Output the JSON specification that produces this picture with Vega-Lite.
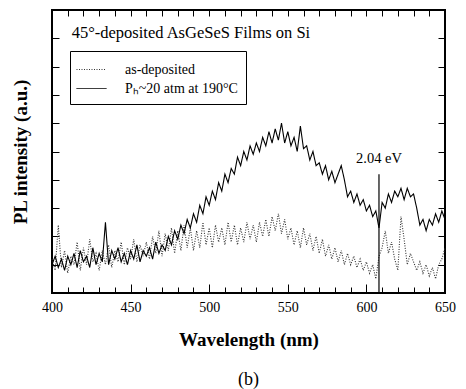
{
  "$schema": "https://vega.github.io/schema/vega-lite/v6.json",
  "width": 393,
  "height": 283,
  "autosize": {"type": "none"},
  "padding": {"left": 52, "top": 10, "right": 21, "bottom": 96},
  "background": "white",
  "config": {
    "view": {"stroke": "black", "strokeWidth": 2},
    "font": "Liberation Serif",
    "axis": {"domain": false, "grid": false, "tickColor": "black", "labelColor": "black", "titleColor": "black", "labelFont": "Liberation Serif", "titleFont": "Liberation Serif"}
  },
  "title": {"text": "(b)", "orient": "bottom", "font": "Liberation Serif", "fontSize": 18, "fontWeight": "normal", "color": "black", "offset": 22},
  "resolve": {"axis": {"x": "independent", "y": "independent"}},
  "layer": [
    {
      "data": {"values": [
        {"w":400,"as":1.2,"ph":1.0},{"w":402,"as":0.8,"ph":1.3},{"w":404,"as":2.4,"ph":0.9},{"w":406,"as":0.9,"ph":1.2},{"w":408,"as":1.5,"ph":0.8},
        {"w":410,"as":0.7,"ph":1.3},{"w":412,"as":1.3,"ph":1.0},{"w":414,"as":1.0,"ph":1.4},{"w":416,"as":1.8,"ph":0.9},{"w":418,"as":0.8,"ph":1.5},
        {"w":420,"as":1.6,"ph":1.1},{"w":422,"as":1.0,"ph":1.3},{"w":424,"as":1.9,"ph":0.9},{"w":426,"as":1.1,"ph":1.6},{"w":428,"as":1.4,"ph":1.0},
        {"w":430,"as":0.8,"ph":1.4},{"w":432,"as":1.5,"ph":1.1},{"w":434,"as":1.0,"ph":2.5},{"w":436,"as":1.7,"ph":1.0},{"w":438,"as":0.9,"ph":1.5},
        {"w":440,"as":1.5,"ph":1.2},{"w":442,"as":1.1,"ph":1.6},{"w":444,"as":1.8,"ph":1.1},{"w":446,"as":1.0,"ph":1.4},{"w":448,"as":1.6,"ph":1.0},
        {"w":450,"as":1.2,"ph":1.5},{"w":452,"as":1.9,"ph":1.2},{"w":454,"as":1.1,"ph":1.7},{"w":456,"as":1.7,"ph":1.1},{"w":458,"as":1.3,"ph":1.5},
        {"w":460,"as":1.8,"ph":1.3},{"w":462,"as":1.2,"ph":1.6},{"w":464,"as":2.0,"ph":1.2},{"w":466,"as":1.4,"ph":1.8},{"w":468,"as":2.2,"ph":1.4},
        {"w":470,"as":1.3,"ph":1.7},{"w":472,"as":2.1,"ph":1.5},{"w":474,"as":1.5,"ph":2.0},{"w":476,"as":2.3,"ph":1.7},{"w":478,"as":1.4,"ph":2.2},
        {"w":480,"as":2.2,"ph":1.9},{"w":482,"as":1.5,"ph":2.4},{"w":484,"as":2.4,"ph":2.1},{"w":486,"as":1.6,"ph":2.6},{"w":488,"as":2.3,"ph":2.3},
        {"w":490,"as":1.5,"ph":2.8},{"w":492,"as":2.2,"ph":2.5},{"w":494,"as":1.6,"ph":3.1},{"w":496,"as":2.5,"ph":2.8},{"w":498,"as":1.7,"ph":3.4},
        {"w":500,"as":2.3,"ph":3.1},{"w":502,"as":1.6,"ph":3.6},{"w":504,"as":2.4,"ph":3.3},{"w":506,"as":1.8,"ph":3.9},{"w":508,"as":2.3,"ph":3.6},
        {"w":510,"as":1.7,"ph":4.2},{"w":512,"as":2.5,"ph":3.9},{"w":514,"as":1.8,"ph":4.4},{"w":516,"as":2.4,"ph":4.2},{"w":518,"as":1.7,"ph":4.8},
        {"w":520,"as":2.3,"ph":4.5},{"w":522,"as":1.8,"ph":5.0},{"w":524,"as":2.5,"ph":4.7},{"w":526,"as":1.9,"ph":5.2},{"w":528,"as":2.4,"ph":4.9},
        {"w":530,"as":1.8,"ph":5.3},{"w":532,"as":2.5,"ph":5.0},{"w":534,"as":2.0,"ph":5.5},{"w":536,"as":2.6,"ph":5.2},{"w":538,"as":2.0,"ph":5.7},
        {"w":540,"as":2.7,"ph":5.3},{"w":542,"as":2.2,"ph":5.8},{"w":544,"as":2.8,"ph":5.4},{"w":546,"as":2.1,"ph":6.0},{"w":548,"as":2.6,"ph":5.3},
        {"w":550,"as":1.9,"ph":5.7},{"w":552,"as":2.3,"ph":5.2},{"w":554,"as":1.7,"ph":5.5},{"w":556,"as":2.2,"ph":5.0},{"w":558,"as":1.6,"ph":5.9},
        {"w":560,"as":2.3,"ph":5.1},{"w":562,"as":1.7,"ph":5.2},{"w":564,"as":2.1,"ph":4.7},{"w":566,"as":1.5,"ph":5.0},{"w":568,"as":2.0,"ph":4.5},
        {"w":570,"as":1.4,"ph":4.6},{"w":572,"as":1.9,"ph":4.2},{"w":574,"as":1.3,"ph":4.5},{"w":576,"as":1.7,"ph":4.0},{"w":578,"as":1.2,"ph":4.3},
        {"w":580,"as":1.6,"ph":3.9},{"w":582,"as":1.1,"ph":4.2},{"w":584,"as":1.5,"ph":4.5},{"w":586,"as":1.0,"ph":4.0},{"w":588,"as":1.4,"ph":3.4},
        {"w":590,"as":1.0,"ph":3.6},{"w":592,"as":1.3,"ph":3.2},{"w":594,"as":0.9,"ph":3.5},{"w":596,"as":1.2,"ph":3.1},{"w":598,"as":0.8,"ph":3.3},
        {"w":600,"as":1.1,"ph":2.9},{"w":602,"as":0.7,"ph":3.1},{"w":604,"as":1.0,"ph":2.7},{"w":606,"as":0.5,"ph":2.9},{"w":608,"as":1.3,"ph":2.3},
        {"w":610,"as":1.6,"ph":3.2},{"w":612,"as":2.2,"ph":3.0},{"w":614,"as":1.4,"ph":3.5},{"w":616,"as":1.8,"ph":3.2},{"w":618,"as":1.2,"ph":3.6},
        {"w":620,"as":0.8,"ph":3.4},{"w":622,"as":2.7,"ph":3.7},{"w":624,"as":1.9,"ph":3.3},{"w":626,"as":1.0,"ph":3.7},{"w":628,"as":1.4,"ph":3.4},
        {"w":630,"as":1.1,"ph":3.5},{"w":632,"as":0.8,"ph":3.0},{"w":634,"as":1.1,"ph":2.4},{"w":636,"as":0.7,"ph":2.6},{"w":638,"as":1.0,"ph":2.2},
        {"w":640,"as":0.6,"ph":2.6},{"w":642,"as":0.9,"ph":2.4},{"w":644,"as":0.5,"ph":2.8},{"w":646,"as":1.0,"ph":2.5},{"w":648,"as":1.2,"ph":2.9},
        {"w":650,"as":1.6,"ph":2.6}
      ]},
      "transform": [{"fold": ["as", "ph"], "as": ["series", "v"]}],
      "mark": {"type": "line", "strokeWidth": 1.1, "interpolate": "linear"},
      "encoding": {
        "x": {"field": "w", "type": "quantitative", "scale": {"domain": [400, 650], "nice": false, "zero": false},
          "axis": {"orient": "bottom", "values": [400,410,420,430,440,450,460,470,480,490,500,510,520,530,540,550,560,570,580,590,600,610,620,630,640,650],
            "labelExpr": "datum.value % 50 === 0 ? datum.label : ''",
            "tickSize": {"condition": {"test": "datum.value % 50 === 0", "value": -9}, "value": -6},
            "labelPadding": 16, "labelFontSize": 14,
            "title": "Wavelength (nm)", "titleFontSize": 19, "titleFontWeight": "bold", "titlePadding": 16, "labelFlush": false}},
        "y": {"field": "v", "type": "quantitative", "scale": {"domain": [0, 10], "nice": false},
          "axis": {"orient": "left", "values": [0,1,2,3,4,5,6,7,8,9,10], "labels": false, "tickSize": -7,
            "title": "PL intensity (a.u.)", "titleFontSize": 19, "titleFontWeight": "bold", "titlePadding": 21}},
        "color": {"field": "series", "type": "nominal", "scale": {"domain": ["as", "ph"], "range": ["#333333", "black"]},
          "legend": {"orient": "none", "legendX": 18, "legendY": 41, "title": null, "strokeColor": "black", "fillColor": "white",
            "padding": 8, "symbolType": "M-1.5,0H1.5", "symbolSize": 400, "symbolOffset": 3, "symbolStrokeWidth": 1, "symbolFillColor": "transparent",
            "labelFont": "Liberation Serif", "labelFontSize": 14, "labelColor": "black",
            "labelOffset": 23,
            "labelExpr": "datum.value === 'as' ? 'as-deposited' : 'Pₕ~20 atm at 190°C'", "rowPadding": 1}},
        "strokeDash": {"field": "series", "type": "nominal", "scale": {"domain": ["as", "ph"], "range": [[1, 1.5], [1, 0]]}}
      }
    },
    {
      "data": {"values": [{"w": 608, "y1": 0, "y2": 4.2}]},
      "mark": {"type": "rule", "color": "black", "strokeWidth": 1.2},
      "encoding": {
        "x": {"field": "w", "type": "quantitative", "axis": {"orient": "top", "values": [400,410,420,430,440,450,460,470,480,490,500,510,520,530,540,550,560,570,580,590,600,610,620,630,640,650], "labels": false, "tickSize": -6, "title": null}},
        "y": {"field": "y1", "type": "quantitative", "axis": {"orient": "right", "values": [0,1,2,3,4,5,6,7,8,9,10], "labels": false, "tickSize": -7, "title": null}},
        "y2": {"field": "y2"}
      }
    },
    {
      "data": {"values": [{"w": 608, "y": 4.75, "t": "2.04 eV"}]},
      "mark": {"type": "text", "font": "Liberation Serif", "fontSize": 14.5, "color": "black", "align": "center", "baseline": "middle"},
      "encoding": {
        "x": {"field": "w", "type": "quantitative", "axis": null},
        "y": {"field": "y", "type": "quantitative", "axis": null},
        "text": {"field": "t"}
      }
    },
    {
      "data": {"values": [{"w": 412.5, "y": 9.2, "t": "45°-deposited AsGeSeS Films on Si"}]},
      "mark": {"type": "text", "font": "Liberation Serif", "fontSize": 16.5, "color": "black", "align": "left", "baseline": "middle"},
      "encoding": {
        "x": {"field": "w", "type": "quantitative", "axis": null},
        "y": {"field": "y", "type": "quantitative", "axis": null},
        "text": {"field": "t"}
      }
    }
  ]
}
